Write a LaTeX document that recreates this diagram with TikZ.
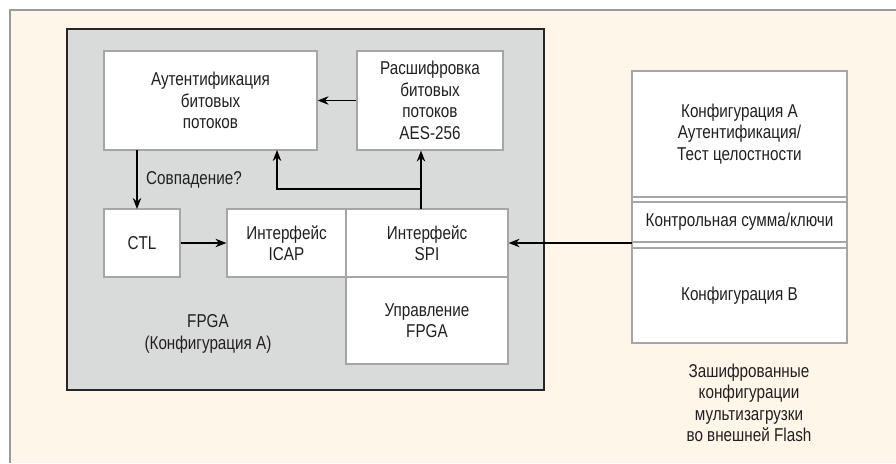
\documentclass[tikz,border=0pt]{standalone}
\usepackage{fontspec}
\setmainfont{Liberation Sans}[FakeStretch=0.82]
\usetikzlibrary{arrows.meta}
\definecolor{cream}{HTML}{FEF6E9}
\definecolor{fpgagray}{HTML}{D9DADA}
\definecolor{boxgray}{HTML}{A6A6A6}
\definecolor{framegray}{HTML}{9A9A9A}
\definecolor{txt}{HTML}{231F20}
\tikzset{
  blk/.style={draw=boxgray, fill=white, line width=1.2pt, inner sep=0pt, align=center,
    text=txt, font=\fontsize{18.6}{21.5}\selectfont},
  lbl/.style={inner sep=0pt, align=center, text=txt, font=\fontsize{18.6}{21.5}\selectfont},
  arr/.style={-{Stealth[length=11pt,width=8.5pt]}, line width=1.1pt, draw=black},
}
\begin{document}
\begin{tikzpicture}[x=1pt,y=-1pt]
\useasboundingbox (0,0) rectangle (896,463);
% outer frame
\fill[cream] (9,10) rectangle (896,463);
\draw[framegray, line width=2pt] (9.5,463) -- (9.5,10) -- (896,10);
% FPGA
\draw[fill=fpgagray, draw=black!85, line width=1.3pt] (67,29) rectangle (544,390);
\node[blk, minimum width=213pt, minimum height=99pt] (auth) at (210.5,100.5)
  {Аутентификация\\битовых\\потоков};
\node[blk, minimum width=146pt, minimum height=99pt] (dec) at (430,100.5)
  {Расшифровка\\битовых\\потоков\\AES-256};
\node[blk, minimum width=76pt, minimum height=68pt] (ctl) at (142,243) {CTL};
\node[blk, minimum width=119pt, minimum height=68pt] (icap) at (286.5,243) {Интерфейс\\ICAP};
\node[blk, minimum width=162pt, minimum height=68pt] (spi) at (427,243) {Интерфейс\\SPI};
\node[blk, minimum width=162pt, minimum height=87pt] (ctrl) at (427,320.5) {Управление\\FPGA};
\node[lbl] (fpga) at (208,334) {FPGA\\(Конфигурация A)};
% flash
\node[blk, minimum width=215pt, minimum height=272pt] (flash) at (739.5,207) {};
\draw[boxgray, line width=1.2pt] (632,197) -- (847,197);
\draw[boxgray, line width=1.2pt] (632,202) -- (847,202);
\draw[boxgray, line width=1.2pt] (632,242) -- (847,242);
\draw[boxgray, line width=1.2pt] (632,248) -- (847,248);
\node[lbl] (flA) at (739.5,134) {Конфигурация A\\Аутентификация/\\Тест целостности};
\node[lbl] (flK) at (739.5,222) {Контрольная сумма/ключи};
\node[lbl] (flB) at (739.5,296) {Конфигурация B};
\node[lbl] (cap) at (749,403) {Зашифрованные\\конфигурации\\мультизагрузки\\во внешней Flash};
% connectors
\coordinate (authout) at (137,150);
\coordinate (ctlin) at (137,209);
\coordinate (spiup) at (421,209);
\coordinate (br) at (421,189);
\coordinate (authin) at (277,150);
\coordinate (flout) at (632,243);
\draw[arr] (dec.west) -- (auth.east);
\draw[arr] (authout) -- (ctlin);
\node[lbl, anchor=west] (match) at (146,180) {Совпадение?};
\draw[arr] (ctl.east) -- (icap.west);
\draw[arr] (spiup) -- (spiup |- dec.south);
\draw[arr] (br) -| (authin);
\draw[arr] (flout) -- (flout -| spi.east);
\end{tikzpicture}
\end{document}
